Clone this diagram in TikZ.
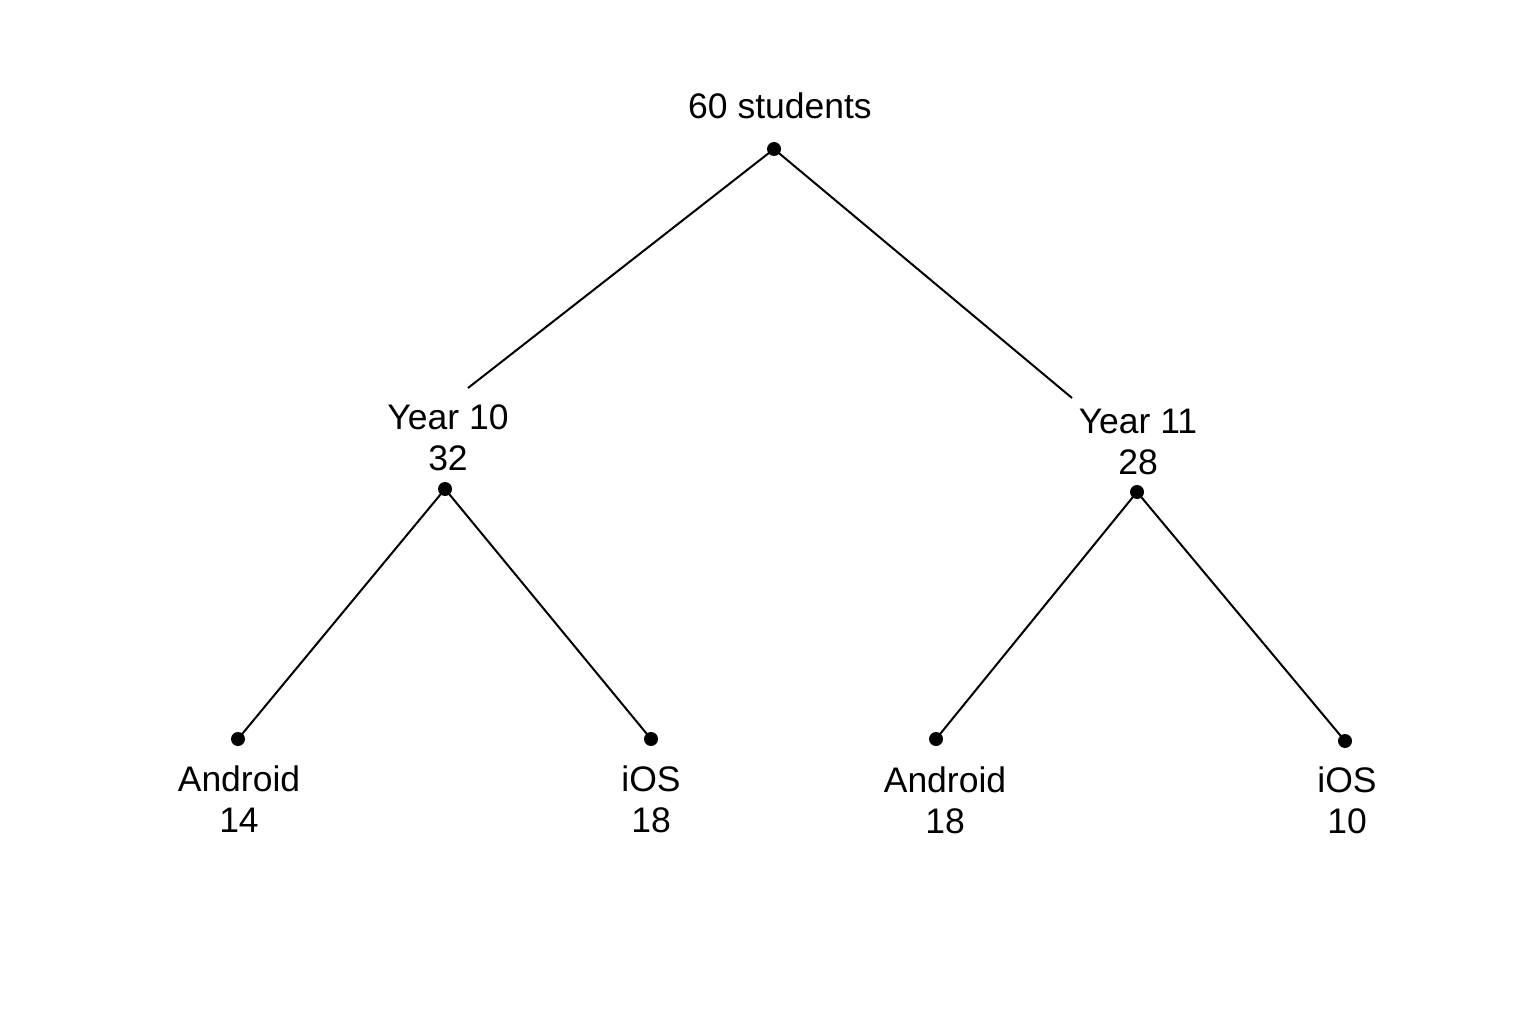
\documentclass[tikz,border=0pt]{standalone}
\usepackage{fontspec}
\setmainfont{Liberation Sans}
\begin{document}
\begin{tikzpicture}[x=1pt,y=-1pt,
  dot/.style={circle,fill=black,inner sep=0pt,minimum size=14pt},
  lbl/.style={align=center,font=\fontsize{35.5}{41}\selectfont,inner sep=0pt},
  edge/.style={line width=2pt}]
\useasboundingbox (0,0) rectangle (1536,1024);
\node[dot] (r) at (774,149) {};
\node[dot] (a) at (445,489) {};
\node[dot] (b) at (1137,492) {};
\node[dot] (a1) at (238,739) {};
\node[dot] (a2) at (651,739) {};
\node[dot] (b1) at (936,739) {};
\node[dot] (b2) at (1345,741) {};
\coordinate (ea) at (468,388);
\coordinate (eb) at (1072,398);
\node[lbl] (tr) at (780,106) {60 students};
\node[lbl] (ta) at (448,438) {Year 10\\32};
\node[lbl] (tb) at (1138,442) {Year 11\\28};
\node[lbl] (ta1) at (239,799) {Android\\14};
\node[lbl] (ta2) at (651,799) {iOS\\18};
\node[lbl] (tb1) at (945,800) {Android\\18};
\node[lbl] (tb2) at (1347,800) {iOS\\10};
\draw[edge] (r.center) -- (ea);
\draw[edge] (r.center) -- (eb);
\draw[edge] (a.center) -- (a1.center);
\draw[edge] (a.center) -- (a2.center);
\draw[edge] (b.center) -- (b1.center);
\draw[edge] (b.center) -- (b2.center);
\end{tikzpicture}
\end{document}
